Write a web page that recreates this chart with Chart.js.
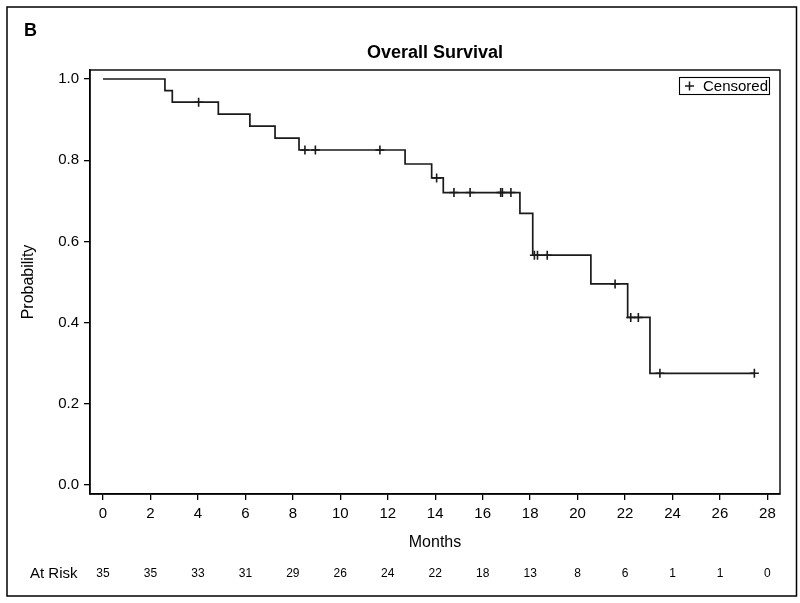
<!DOCTYPE html>
<html>
<head>
<meta charset="utf-8">
<script src="https://cdn.jsdelivr.net/npm/chart.js@4.4.1/dist/chart.umd.min.js"></script>
<style>
  html, body { margin: 0; padding: 0; background: #fff; }
  canvas { display: block; }
</style>
</head>
<body>
<canvas id="c" width="800" height="603"></canvas>
<script>
// ---- Data ----
const survTimes = [0, 2.61, 2.92, 4.86, 6.19, 7.25, 8.26, 12.73, 13.85, 14.34, 17.57, 18.11, 20.56, 22.11, 23.05, 27.45];
const survProb  = [1.0, 0.9714, 0.9429, 0.9134, 0.8840, 0.8545, 0.8251, 0.7907, 0.7563, 0.7203, 0.6689, 0.5660, 0.4952, 0.4127, 0.2751, 0.2751];
const censorTimes = [4.03, 8.51, 8.95, 11.67, 14.06, 14.79, 15.47, 16.76, 16.83, 17.19, 18.18, 18.31, 18.72, 21.58, 22.24, 22.56, 23.47, 27.45];
const censorProb  = [0.9429, 0.8251, 0.8251, 0.8251, 0.7563, 0.7203, 0.7203, 0.7203, 0.7203, 0.7203, 0.5660, 0.5660, 0.5660, 0.4952, 0.4127, 0.4127, 0.2751, 0.2751];
const xTicks = [0, 2, 4, 6, 8, 10, 12, 14, 16, 18, 20, 22, 24, 26, 28];
const yTicks = [0.0, 0.2, 0.4, 0.6, 0.8, 1.0];
const atRiskTimes  = [0, 2, 4, 6, 8, 10, 12, 14, 16, 18, 20, 22, 24, 26, 28];
const atRiskCounts = [35, 35, 33, 31, 29, 26, 24, 22, 18, 13, 8, 6, 1, 1, 0];

const panelLabel = 'B';
const titleText = 'Overall Survival';
const xTitle = 'Months';
const yTitle = 'Probability';
const atRiskLabel = 'At Risk';
const legendText = 'Censored';

const FONT = "'Liberation Sans', Arial, Helvetica, sans-serif";
const INK = '#000';
const LINE = '#1a1a1a';

const decorations = {
  id: 'decorations',
  afterDraw(chart) {
    const ctx = chart.ctx;
    const a = chart.chartArea;
    const xs = chart.scales.x;
    ctx.save();
    // outer frame
    ctx.strokeStyle = INK;
    ctx.lineWidth = 1.5;
    ctx.strokeRect(7, 7, 789.5, 589);
    // plot frame
    ctx.lineWidth = 1.4;
    ctx.strokeRect(a.left, a.top, a.right - a.left, a.bottom - a.top);

    ctx.fillStyle = INK;
    // panel label
    ctx.font = 'bold 18px ' + FONT;
    ctx.textAlign = 'left';
    ctx.textBaseline = 'middle';
    ctx.fillText(panelLabel, 24, 31);
    // title
    ctx.textAlign = 'center';
    ctx.fillText(titleText, (a.left + a.right) / 2, 53);
    // axis titles
    ctx.font = '16px ' + FONT;
    ctx.fillText(xTitle, (a.left + a.right) / 2, 543);
    ctx.save();
    ctx.translate(28.5, (a.top + a.bottom) / 2);
    ctx.rotate(-Math.PI / 2);
    ctx.fillText(yTitle, 0, 0);
    ctx.restore();
    // at risk row
    ctx.font = '15px ' + FONT;
    ctx.textAlign = 'left';
    ctx.fillText(atRiskLabel, 30, 574);
    ctx.font = '12px ' + FONT;
    ctx.textAlign = 'center';
    atRiskTimes.forEach((t, i) => {
      ctx.fillText(String(atRiskCounts[i]), xs.getPixelForValue(t), 574);
    });
    // legend box
    const lx = a.right - 101, ly = a.top + 7, lw = 90, lh = 17;
    ctx.lineWidth = 1.1;
    ctx.strokeStyle = INK;
    ctx.strokeRect(lx + 0.5, ly + 0.5, lw, lh);
    const cx = lx + 10.5, cy = ly + lh / 2 + 0.5;
    ctx.strokeStyle = LINE;
    ctx.lineWidth = 1.5;
    ctx.beginPath();
    ctx.moveTo(cx - 4.5, cy); ctx.lineTo(cx + 4.5, cy);
    ctx.moveTo(cx, cy - 4.5); ctx.lineTo(cx, cy + 4.5);
    ctx.stroke();
    ctx.font = '15px ' + FONT;
    ctx.textAlign = 'left';
    ctx.fillText(legendText, lx + 24, cy + 0.5);
    ctx.restore();
  }
};

const ctx = document.getElementById('c').getContext('2d');
new Chart(ctx, {
  data: {
    datasets: [
      {
        type: 'line',
        label: 'Survival',
        data: survTimes.map((t, i) => ({ x: t, y: survProb[i] })),
        stepped: true,
        borderColor: LINE,
        borderWidth: 1.7,
        pointRadius: 0,
        fill: false,
        tension: 0
      },
      {
        type: 'scatter',
        label: legendText,
        data: censorTimes.map((t, i) => ({ x: t, y: censorProb[i] })),
        pointStyle: 'cross',
        pointRadius: 4.5,
        borderColor: LINE,
        borderWidth: 1.6,
        backgroundColor: LINE
      }
    ]
  },
  options: {
    responsive: false,
    animation: false,
    events: [],
    layout: { padding: { left: 0, top: 70, right: 20, bottom: 0 } },
    plugins: { legend: { display: false }, tooltip: { enabled: false }, title: { display: false } },
    scales: {
      x: {
        type: 'linear',
        min: -0.548,
        max: 28.53,
        afterBuildTicks: s => { s.ticks = xTicks.map(v => ({ value: v })); },
        afterFit: s => { s.height = 109; },
        grid: { drawOnChartArea: false, drawTicks: true, tickLength: 6, color: INK, lineWidth: 1.3 },
        border: { display: true, color: INK, width: 1.4 },
        ticks: { color: INK, font: { family: FONT, size: 15 }, padding: 5, maxRotation: 0, autoSkip: false,
                 callback: v => String(v) }
      },
      y: {
        type: 'linear',
        min: -0.0222,
        max: 1.0222,
        afterBuildTicks: s => { s.ticks = yTicks.map(v => ({ value: v })); },
        afterFit: s => { s.width = 90; },
        grid: { drawOnChartArea: false, drawTicks: true, tickLength: 6, color: INK, lineWidth: 1.3 },
        border: { display: true, color: INK, width: 1.4 },
        ticks: { color: INK, font: { family: FONT, size: 15 }, padding: 5, autoSkip: false,
                 callback: v => Number(v).toFixed(1) }
      }
    }
  },
  plugins: [decorations]
});
</script>
</body>
</html>
